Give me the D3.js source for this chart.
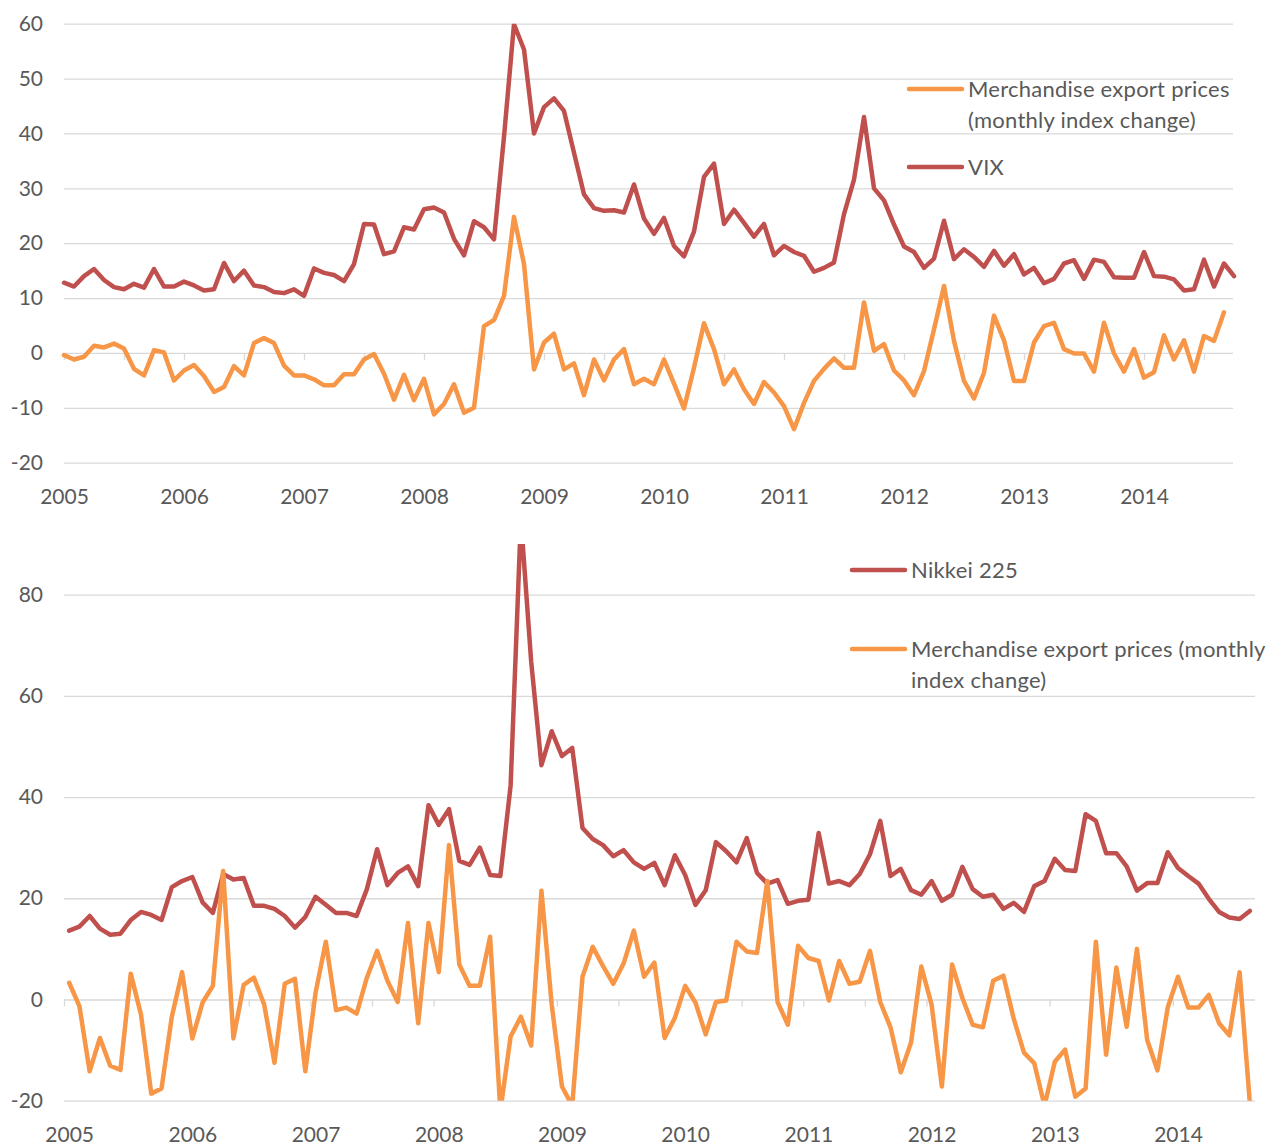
<!DOCTYPE html>
<html>
<head>
<meta charset="utf-8">
<script src="https://cdn.jsdelivr.net/npm/d3@7"></script>
<style>
  body { margin: 0; background: #fff; }
  text { font-family: Lato, "Open Sans", sans-serif; fill: #595959; }
  .grid line { stroke: #d9d9d9; stroke-width: 1.3px; }
  .ticks line { stroke: #d9d9d9; stroke-width: 1.3px; }
</style>
</head>
<body>
<div id="chart"></div>
<script>
// year labels (one every 12 months, starting Jan 2005)
let years = ['2005', '2006', '2007', '2008', '2009', '2010', '2011', '2012', '2013', '2014'];

// top panel: VIX, monthly, Jan 2005 - Oct 2014
let vix = [
  12.8, 12.1, 14.0, 15.3, 13.3, 12.0, 11.6, 12.6, 11.9, 15.3, 12.1, 12.1,
  13.0, 12.3, 11.4, 11.6, 16.4, 13.1, 15.0, 12.3, 12.0, 11.1, 10.9, 11.6,
  10.4, 15.4, 14.6, 14.2, 13.1, 16.2, 23.5, 23.4, 18.0, 18.5, 22.9, 22.5,
  26.2, 26.5, 25.6, 20.8, 17.8, 24.0, 22.9, 20.7, 39.4, 59.9, 55.3, 40.0,
  44.8, 46.4, 44.1, 36.5, 28.9, 26.4, 25.9, 26.0, 25.6, 30.7, 24.5, 21.7,
  24.6, 19.5, 17.6, 22.1, 32.1, 34.5, 23.5, 26.1, 23.7, 21.2, 23.5, 17.8,
  19.5, 18.4, 17.7, 14.8, 15.5, 16.5, 25.3, 31.6, 43.0, 30.0, 27.8, 23.4,
  19.4, 18.4, 15.5, 17.2, 24.1, 17.1, 18.9, 17.5, 15.7, 18.6, 15.9, 18.0,
  14.3, 15.5, 12.7, 13.5, 16.3, 16.9, 13.5, 17.0, 16.6, 13.8, 13.7, 13.7,
  18.4, 14.0, 13.9, 13.4, 11.4, 11.6, 17.0, 12.1, 16.3, 14.0
];

// top panel: merchandise export prices (monthly index change), Jan 2005 - Sep 2014
let exportTop = [
  -0.4, -1.2, -0.7, 1.3, 1.0, 1.7, 0.8, -2.9, -4.1, 0.5, 0.1, -5.0,
  -3.2, -2.2, -4.2, -7.1, -6.2, -2.4, -4.1, 1.8, 2.7, 1.8, -2.3, -4.1,
  -4.1, -4.8, -5.9, -5.9, -3.9, -3.9, -1.2, -0.2, -3.8, -8.5, -4.0, -8.6,
  -4.7, -11.2, -9.3, -5.7, -10.9, -10.0, 4.9, 6.0, 10.4, 24.8, 16.2, -3.0,
  1.9, 3.5, -3.0, -1.9, -7.7, -1.2, -5.0, -1.2, 0.7, -5.7, -4.7, -5.7,
  -1.2, -5.6, -10.1, -2.7, 5.4, 0.7, -5.7, -3.0, -6.6, -9.3, -5.3, -7.2,
  -9.7, -13.9, -9.1, -5.1, -2.9, -1.0, -2.7, -2.7, 9.2, 0.4, 1.6, -3.2,
  -5.0, -7.7, -3.3, 4.3, 12.2, 2.2, -5.1, -8.3, -3.6, 6.8, 2.3, -5.1,
  -5.1, 1.9, 4.9, 5.5, 0.7, -0.1, -0.1, -3.4, 5.5, -0.1, -3.4, 0.7,
  -4.5, -3.5, 3.2, -1.2, 2.3, -3.4, 3.1, 2.2, 7.4
];

// bottom panel: Nikkei 225, Jan 2005 - Aug 2014
let nikkei = [
  13.6, 14.4, 16.5, 14.0, 12.8, 13.0, 15.7, 17.3, 16.7, 15.7, 22.2, 23.4,
  24.2, 19.2, 17.1, 24.8, 23.7, 24.0, 18.5, 18.5, 17.9, 16.5, 14.2, 16.3,
  20.3, 18.7, 17.1, 17.1, 16.5, 21.8, 29.7, 22.6, 25.0, 26.3, 22.4, 38.4,
  34.5, 37.6, 27.4, 26.6, 30.0, 24.6, 24.4, 42.3, 95.0, 66.8, 46.3, 53.0,
  48.1, 49.7, 33.9, 31.7, 30.5, 28.3, 29.5, 27.1, 25.8, 27.0, 22.6, 28.5,
  24.6, 18.7, 21.6, 31.1, 29.3, 27.1, 31.9, 25.0, 22.9, 23.6, 18.9, 19.5,
  19.7, 32.9, 22.9, 23.4, 22.6, 24.8, 28.7, 35.3, 24.4, 25.8, 21.6, 20.7,
  23.4, 19.5, 20.7, 26.2, 21.8, 20.3, 20.7, 17.9, 19.1, 17.3, 22.4, 23.4,
  27.8, 25.6, 25.4, 36.6, 35.3, 28.9, 28.9, 26.3, 21.5, 23.0, 23.0, 29.1,
  26.0, 24.4, 22.9, 19.9, 17.3, 16.2, 15.9, 17.5
];

// bottom panel: merchandise export prices (monthly index change), Jan 2005 - Aug 2014
let exportBottom = [
  3.3, -1.3, -14.2, -7.6, -13.1, -13.9, 5.1, -3.0, -18.6, -17.6, -3.4, 5.4,
  -7.7, -0.6, 2.7, 25.4, -7.7, 2.9, 4.3, -1.0, -12.5, 3.1, 4.1, -14.2,
  1.3, 11.4, -2.1, -1.6, -2.8, 4.3, 9.6, 3.7, -0.5, 15.1, -4.7, 15.1,
  5.4, 30.5, 6.9, 2.7, 2.7, 12.4, -22.0, -7.3, -3.4, -9.1, 21.5, -1.0,
  -17.2, -21.0, 4.5, 10.4, 6.6, 3.1, 7.1, 13.6, 4.5, 7.3, -7.6, -3.6,
  2.7, -0.6, -6.9, -0.5, -0.2, 11.4, 9.5, 9.2, 23.4, -0.5, -5.0, 10.6,
  8.2, 7.6, -0.2, 7.6, 3.1, 3.5, 9.6, -0.5, -5.5, -14.4, -8.5, 6.5,
  -1.0, -17.2, 6.9, 0.3, -5.0, -5.5, 3.7, 4.7, -3.8, -10.5, -12.6, -21.0,
  -12.3, -9.9, -19.2, -17.6, 11.4, -10.9, 6.3, -5.4, 10.0, -8.0, -14.0, -1.6,
  4.5, -1.6, -1.6, 0.9, -4.7, -7.1, 5.4, -20.5
];

let topTicks = [-20, -10, 0, 10, 20, 30, 40, 50, 60];
let bottomTicks = [-20, 0, 20, 40, 60, 80];

let red = '#c0504d';
let orange = '#f79646';

let svgWidth = 1267;
let svgHeight = 1146;

let svg = d3.select('#chart')
  .append('svg')
  .attr('width', svgWidth)
  .attr('height', svgHeight);

// draw one panel
function drawPanel(opts) {
  let g = svg.append('g');

  let xScale = d3.scaleLinear()
    .domain(opts.xDomain)
    .range([opts.left, opts.right]);

  let yScale = d3.scaleLinear()
    .domain(opts.yDomain)
    .range([opts.bottom, opts.top]);

  // gridlines + y labels (plain hyphen for negatives, like the original)
  let leftAxis = d3.axisLeft(yScale)
    .tickValues(opts.yTicks)
    .tickSize(-(opts.gridRight - opts.left))
    .tickPadding(opts.left - 43)
    .tickFormat(d => String(d));

  g.append('g')
    .attr('class', 'grid')
    .attr('transform', `translate(${opts.left}, 0)`)
    .call(leftAxis)
    .call(a => a.select('.domain').remove())
    .selectAll('text')
    .attr('font-size', '21px')
    .style('fill', '#595959');

  // small tick marks below the zero line, every 6 months
  let tickAxis = d3.axisBottom(xScale)
    .tickValues(d3.range(0, opts.xDomain[1] + 1, 6))
    .tickSize(7)
    .tickFormat('');

  g.append('g')
    .attr('class', 'ticks')
    .attr('transform', `translate(0, ${yScale(0)})`)
    .call(tickAxis)
    .call(a => a.select('.domain').remove());

  // year labels at the bottom of the panel
  let labelAxis = d3.axisBottom(xScale)
    .tickValues(years.map((y, k) => k * 12 + opts.labelOffset))
    .tickSize(0)
    .tickPadding(0)
    .tickFormat((d, k) => years[k]);

  g.append('g')
    .attr('transform', `translate(0, ${opts.labelBaseline})`)
    .call(labelAxis)
    .call(a => a.select('.domain').remove())
    .selectAll('text')
    .attr('dy', 0)
    .attr('font-size', '21px')
    .style('fill', '#595959');

  // clip lines to the plot area
  let clipId = 'clip' + opts.id;
  svg.append('clipPath')
    .attr('id', clipId)
    .append('rect')
    .attr('x', opts.left - 5)
    .attr('y', opts.top)
    .attr('width', opts.gridRight - opts.left + 10)
    .attr('height', opts.bottom - opts.top);

  let lines = g.append('g').attr('clip-path', `url(#${clipId})`);

  opts.series.forEach(function(s) {
    let line = d3.line()
      .x((d, i) => xScale(i + opts.pointOffset))
      .y(d => yScale(d));

    lines.append('path')
      .datum(s.values)
      .attr('fill', 'none')
      .attr('stroke', s.color)
      .attr('stroke-width', 4.5)
      .attr('stroke-linejoin', 'round')
      .attr('stroke-linecap', 'round')
      .attr('d', line);
  });

  // legend
  opts.legend.forEach(function(item) {
    g.append('line')
      .attr('x1', item.x)
      .attr('x2', item.x + 53)
      .attr('y1', item.y)
      .attr('y2', item.y)
      .attr('stroke', item.color)
      .attr('stroke-width', 4.5)
      .attr('stroke-linecap', 'round');

    item.lines.forEach(function(txt, k) {
      g.append('text')
        .attr('x', item.x + 59)
        .attr('y', item.y + k * 31.5)
        .attr('dy', '0.35em')
        .attr('font-size', '22px')
        .attr('letter-spacing', '0.25px')
        .text(txt);
    });
  });
}

// top panel: VIX vs export prices
drawPanel({
  id: 'top',
  left: 64,
  right: 1234,
  gridRight: 1233,
  top: 23.7,
  bottom: 462.7,
  xDomain: [0, 117],
  yDomain: [-20, 60],
  yTicks: topTicks,
  labelOffset: 0,
  pointOffset: 0,
  labelBaseline: 504,
  series: [
    {values: exportTop, color: orange},
    {values: vix, color: red}
  ],
  legend: [
    {x: 909, y: 89, color: orange, lines: ['Merchandise export prices', '(monthly index change)']},
    {x: 909, y: 167, color: red, lines: ['VIX']}
  ]
});

// bottom panel: Nikkei 225 vs export prices
drawPanel({
  id: 'bottom',
  left: 64,
  right: 1255,
  gridRight: 1255,
  top: 544,
  bottom: 1100.7,
  xDomain: [0, 116],
  yDomain: [-20, 90],
  yTicks: bottomTicks,
  labelOffset: 0.5,
  pointOffset: 0.5,
  labelBaseline: 1142,
  series: [
    {values: nikkei, color: red},
    {values: exportBottom, color: orange}
  ],
  legend: [
    {x: 852, y: 570, color: red, lines: ['Nikkei 225']},
    {x: 852, y: 649, color: orange, lines: ['Merchandise export prices (monthly', 'index change)']}
  ]
});
</script>
</body>
</html>
